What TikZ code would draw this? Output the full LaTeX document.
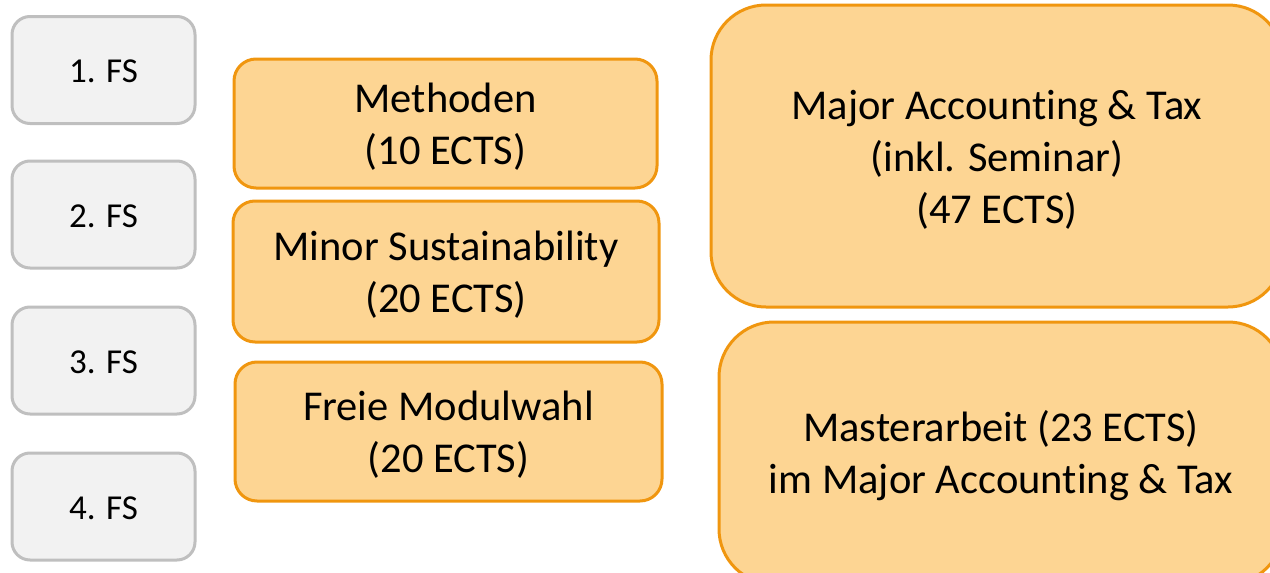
\documentclass[tikz,border=0pt]{standalone}
\usepackage{fontspec}
\setmainfont[Ligatures=NoCommon]{Carlito}
\definecolor{fsfill}{HTML}{F2F2F2}
\definecolor{fsline}{HTML}{BFBFBF}
\definecolor{orfill}{HTML}{FDD593}
\definecolor{orline}{HTML}{F0960F}
\tikzset{
  fsbox/.style={draw=fsline, fill=fsfill, line width=3pt, rounded corners=18pt,
    minimum width=183pt, minimum height=107pt, inner sep=0pt},
  fslabel/.style={inner sep=0pt, font=\fontsize{35}{42}\selectfont, text=black},
  orbox/.style={draw=orline, fill=orfill, line width=3pt, rounded corners=22pt,
    inner sep=0pt},
  bigbox/.style={orbox, rounded corners=55pt},
  orlabel/.style={inner sep=0pt, align=center, font=\fontsize{42.5}{52}\selectfont, text=black}
}
\begin{document}
\begin{tikzpicture}[x=1pt,y=-1pt]
\useasboundingbox (0,0) rectangle (1270,573);
\clip (0,0) rectangle (1270,573);
\node[fsbox] (fs1) at (103.5,70) {};
\node[fsbox] (fs2) at (103.5,214.5) {};
\node[fsbox] (fs3) at (103.5,360.5) {};
\node[fsbox] (fs4) at (103.5,506.5) {};
\node[fslabel] (fs1t) at ([yshift=-1.5pt]fs1.center) {1. FS};
\node[fslabel] (fs2t) at ([yshift=-1.5pt]fs2.center) {2. FS};
\node[fslabel] (fs3t) at ([yshift=-1.5pt]fs3.center) {3. FS};
\node[fslabel] (fs4t) at ([yshift=-1.5pt]fs4.center) {4. FS};
\node[orbox, minimum width=423pt, minimum height=129pt] (meth) at (445.5,123.5) {};
\node[orbox, minimum width=426pt, minimum height=141pt] (minor) at (446,271.5) {};
\node[orbox, minimum width=427pt, minimum height=139pt] (freie) at (448.5,431.5) {};
\node[bigbox, minimum width=572pt, minimum height=302pt] (major) at (997,156) {};
\node[bigbox, minimum width=564pt, minimum height=262pt] (master) at (1001,453) {};
\node[orlabel] (metht) at ([yshift=-3.5pt]meth.center) {Methoden\\(10 ECTS)};
\node[orlabel] (minort) at ([yshift=-3.5pt]minor.center) {Minor Sustainability\\(20 ECTS)};
\node[orlabel] (freiet) at ([yshift=-3.5pt]freie.center) {Freie Modulwahl\\(20 ECTS)};
\node[orlabel] (majort) at ([yshift=-4pt]major.center) {Major Accounting \& Tax\\(inkl. Seminar)\\(47 ECTS)};
\node[orlabel] (mastert) at ([yshift=-3pt]master.center) {Masterarbeit (23 ECTS)\\im Major Accounting \& Tax};
\end{tikzpicture}
\end{document}
